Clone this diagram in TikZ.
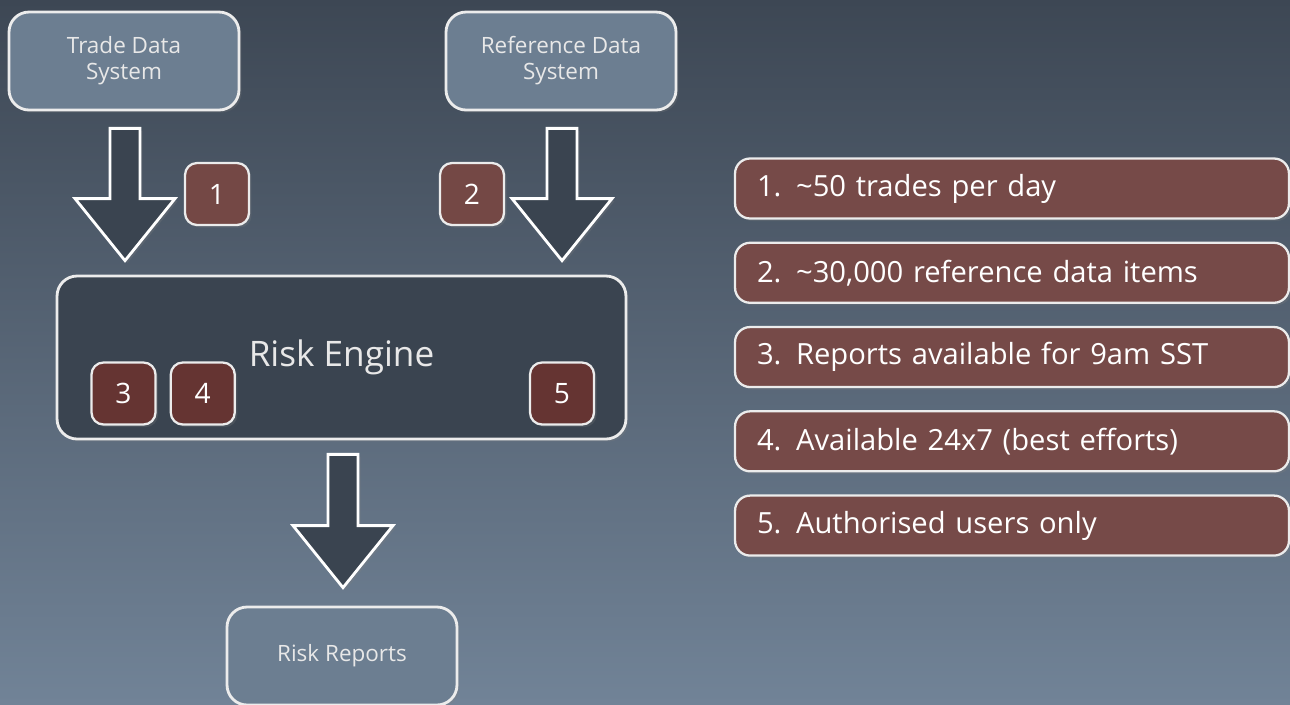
\documentclass[tikz,border=0pt]{standalone}
\usepackage{fontspec}
\setmainfont{Open Sans}
\usepackage{tikz}
\usetikzlibrary{positioning,calc,shadows}
\definecolor{bg_top}{RGB}{61,71,84}
\definecolor{bg_bottom}{RGB}{113,131,151}
\definecolor{box_slate}{RGB}{108,126,145}
\definecolor{engine_dark}{RGB}{58,68,80}
\definecolor{edge_white}{RGB}{236,236,236}
\definecolor{badge_red}{RGB}{116,72,69}
\definecolor{badge_dark}{RGB}{101,52,50}
\definecolor{note_red}{RGB}{118,74,72}
\definecolor{text_light}{RGB}{232,232,232}

\begin{document}
\begin{tikzpicture}[x=0.02cm,y=-0.02cm,line join=miter]
    \tikzstyle{soft}=[drop shadow={opacity=0.25,shadow xshift=0.05cm,shadow yshift=-0.05cm}]
    \tikzstyle{sys}=[draw=edge_white, line width=1.6pt, rounded corners=0.4cm, fill=box_slate, minimum width=4.6cm, minimum height=1.96cm, align=center, text=text_light, font=\fontsize{12.8}{14.8}\selectfont, soft]
    \tikzstyle{core}=[draw=edge_white, line width=1.6pt, rounded corners=0.4cm, fill=engine_dark, minimum width=11.38cm, minimum height=3.26cm, text=text_light, font=\fontsize{20}{24}\selectfont, soft]
    \tikzstyle{badge}=[draw=edge_white, line width=1.3pt, rounded corners=0.24cm, fill=badge_red, minimum width=1.28cm, minimum height=1.24cm, text=white, font=\fontsize{16}{18}\selectfont, soft]
    \tikzstyle{note}=[draw=edge_white, line width=1.3pt, rounded corners=0.3cm, fill=note_red, minimum height=1.2cm, text width=10.2cm, inner xsep=0.44cm, align=left, text=white, font=\fontsize{16.6}{19}\selectfont, soft]
    \tikzstyle{flow}=[draw=white, line width=1.6pt, fill=engine_dark, soft]

    % background
    \useasboundingbox (0,0) rectangle (1290,704);
    \shade[top color=bg_top, bottom color=bg_bottom] (0,0) rectangle (1290,704);

    \node[sys] (trade)   at (124,61)     {Trade Data\\System};
    \node[sys] (refdata) at (561,61)     {Reference Data\\System};
    \node[core] (engine) at (341.5,357.5) {Risk Engine};
    \node[sys] (reports) at (342,656)    {Risk Reports};

    % block arrows: top point and tip point
    \coordinate (a1t) at ($(trade.south)+(1,17)$);
    \coordinate (a1b) at ($(a1t |- engine.north)+(0,-14)$);
    \coordinate (a2t) at ($(refdata.south)+(1,17)$);
    \coordinate (a2b) at ($(a2t |- engine.north)+(0,-14)$);
    \coordinate (a3t) at ($(engine.south)+(1.5,14)$);
    \coordinate (a3b) at ($(a3t |- reports.north)+(0,-18)$);
    \foreach \t/\b in {a1t/a1b,a2t/a2b,a3t/a3b}
      \draw[flow] let \p1=(\t), \p2=(\b) in
        (\x1-0.3cm,\y1) -- (\x1+0.3cm,\y1) -- (\x1+0.3cm,\y2+1.24cm)
        -- (\x1+1cm,\y2+1.24cm) -- (\x2,\y2) -- (\x1-1cm,\y2+1.24cm)
        -- (\x1-0.3cm,\y2+1.24cm) -- cycle;

    \node[badge] (b1) at (217,194)   {1};
    \node[badge] (b2) at (472,194)   {2};
    \node[badge, fill=badge_dark] (b3) at (123.5,393.5) {3};
    \node[badge, fill=badge_dark, right=0.26cm of b3] (b4) {4};
    \node[badge, fill=badge_dark] (b5) at (562,393.5) {5};

    \node[note] (l1) at (1012,188.5) {1. \textasciitilde50 trades per day};
    \node[note, below=0.44cm of l1] (l2) {2. \textasciitilde30,000 reference data items};
    \node[note, below=0.44cm of l2] (l3) {3. Reports available for 9am SST};
    \node[note, below=0.44cm of l3] (l4) {4. Available 24x7 (best efforts)};
    \node[note, below=0.44cm of l4] (l5) {5. Authorised users only};
\end{tikzpicture}
\end{document}
